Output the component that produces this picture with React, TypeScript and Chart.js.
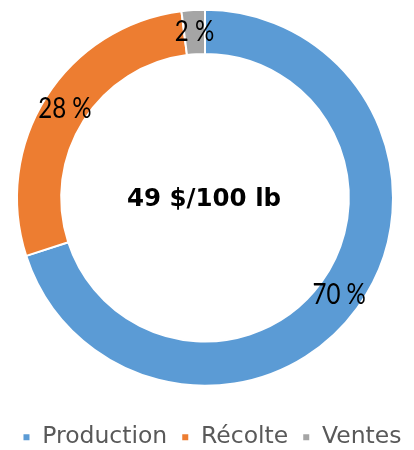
import React, { useEffect, useRef } from "react";
import { Chart, registerables } from "chart.js";

Chart.register(...registerables);

const categories = ["Production", "Récolte", "Ventes"];
const values = [70, 28, 2];
const valueLabels = ["70 %", "28 %", "2 %"];
const centerText = "49 $/100 lb";
const colors = ["#5B9BD5", "#ED7D31", "#A5A5A5"];

const labelPlugin = {
  id: "doughnutLabels",
  afterDatasetsDraw(chart: any) {
    const { ctx } = chart;
    const meta = chart.getDatasetMeta(0);
    ctx.save();
    ctx.fillStyle = "#000000";
    ctx.textAlign = "center";
    ctx.textBaseline = "middle";
    ctx.font = '28px Lato, "Liberation Sans", sans-serif';
    meta.data.forEach((arc: any, i: number) => {
      const p = arc.tooltipPosition();
      ctx.save();
      ctx.translate(p.x, p.y);
      ctx.scale(0.86, 1);
      ctx.fillText(valueLabels[i], 0, 0);
      ctx.restore();
    });
    const a0 = meta.data[0];
    ctx.font = 'bold 24.5px "DejaVu Sans", sans-serif';
    ctx.fillText(centerText, a0.x - 1, a0.y + 2);
    ctx.restore();
  },
};

const legendShift = {
  id: "legendShift",
  afterLayout(chart: any) {
    if (chart.legend) {
      chart.legend.left += 7;
      chart.legend.right += 7;
    }
  },
};

export default function App() {
  const ref = useRef<HTMLCanvasElement | null>(null);
  useEffect(() => {
    document.body.style.margin = "0";
    const chart = new Chart(ref.current as HTMLCanvasElement, {
      type: "doughnut",
      data: {
        labels: categories,
        datasets: [
          {
            data: values,
            backgroundColor: colors,
            borderColor: "#FFFFFF",
            borderWidth: 2,
            hoverOffset: 0,
          },
        ],
      },
      options: {
        responsive: false,
        animation: false,
        radius: 188,
        cutout: "76.5%",
        layout: { padding: { left: 0, right: 4, top: 0, bottom: 0 } },
        plugins: {
          tooltip: { enabled: false },
          legend: {
            position: "bottom",
            labels: {
              boxWidth: 8,
              boxHeight: 8,
              padding: 14,
              color: "#595959",
              font: { family: '"DejaVu Sans", sans-serif', size: 23.5 },
            },
          },
        },
      } as any,
      plugins: [labelPlugin, legendShift],
    });
    return () => chart.destroy();
  }, []);
  return (
    <div style={{ position: "absolute", left: 0, top: 0, width: 414, height: 450, overflow: "hidden", background: "#fff" }}>
      <canvas ref={ref} width={414} height={475} style={{ position: "absolute", left: 0, top: -16, width: 414, height: 475 }} />
    </div>
  );
}
